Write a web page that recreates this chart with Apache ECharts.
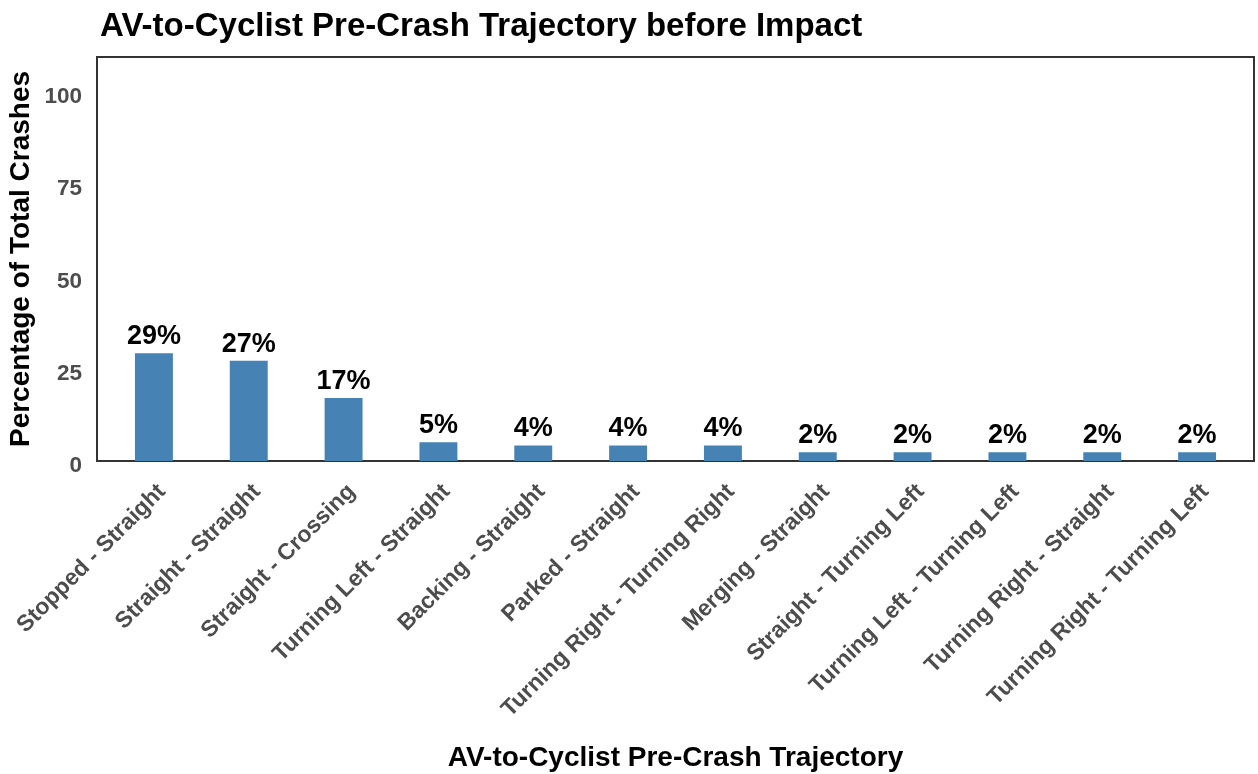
<!DOCTYPE html>
<html>
<head>
<meta charset="utf-8">
<script src="https://cdn.jsdelivr.net/npm/echarts@6/dist/echarts.min.js"></script>
<style>
  html, body { margin: 0; padding: 0; background: #fff; }
  #main { width: 1258px; height: 774px; }
</style>
</head>
<body>
<div id="main"></div>
<script>
// chart data
const trajectories = [
  'Stopped - Straight', 'Straight - Straight', 'Straight - Crossing',
  'Turning Left - Straight', 'Backing - Straight', 'Parked - Straight',
  'Turning Right - Turning Right', 'Merging - Straight', 'Straight - Turning Left',
  'Turning Left - Turning Left', 'Turning Right - Straight', 'Turning Right - Turning Left'
]
const percentages = [29.2, 27.2, 17.1, 5.1, 4.2, 4.2, 4.2, 2.4, 2.4, 2.4, 2.4, 2.4]
const yTicks = [0, 25, 50, 75, 100]

const font = 'Liberation Sans, Arial, sans-serif'
const chart = echarts.init(document.getElementById('main'))

chart.setOption({
  animation: false,
  title: {
    text: 'AV-to-Cyclist Pre-Crash Trajectory before Impact',
    left: 95,
    top: 5,
    textStyle: {fontFamily: font, fontWeight: 'bold', fontSize: 33, color: '#000'}
  },
  grid: [
    // data area, inset like ggplot's discrete expansion
    {left: 106.5, right: 13.5, top: 57, bottom: 313, outerBoundsMode: 'none'},
    // frame around the panel
    {left: 97, right: 4, top: 57, bottom: 313, outerBoundsMode: 'none', show: true, borderColor: '#333', borderWidth: 2, backgroundColor: 'transparent'}
  ],
  xAxis: [
    {
      type: 'category',
      gridIndex: 0,
      data: trajectories,
      axisLine: {show: false},
      axisTick: {show: false},
      axisLabel: {
        rotate: 45,
        interval: 0,
        margin: 19,
        verticalAlign: 'top',
        fontFamily: font,
        fontWeight: 'bold',
        fontSize: 23,
        color: '#4d4d4d'
      },
      name: 'AV-to-Cyclist Pre-Crash Trajectory',
      nameLocation: 'middle',
      nameGap: 283,
      nameMoveOverlap: false,
      nameTextStyle: {fontFamily: font, fontWeight: 'bold', fontSize: 28, color: '#000'}
    },
    {type: 'value', gridIndex: 1, show: false, min: 0, max: 1}
  ],
  yAxis: [
    {
      type: 'value',
      gridIndex: 0,
      min: 0,
      max: 109.5,
      interval: 25,
      axisLine: {show: false},
      axisTick: {show: false},
      splitLine: {show: false},
      axisLabel: {
        margin: 24.5,
        verticalAlign: 'top',
        lineHeight: 10,
        fontFamily: font,
        fontWeight: 'bold',
        fontSize: 22.5,
        color: '#4d4d4d',
        formatter: v => (yTicks.includes(v) ? String(v) : '')
      },
      name: 'Percentage of Total Crashes',
      nameLocation: 'middle',
      nameGap: 71,
      nameMoveOverlap: false,
      nameTextStyle: {fontFamily: font, fontWeight: 'bold', fontSize: 28, color: '#000'}
    },
    {type: 'value', gridIndex: 1, show: false, min: 0, max: 1}
  ],
  series: [{
    type: 'bar',
    xAxisIndex: 0,
    yAxisIndex: 0,
    data: percentages,
    barWidth: '40%',
    itemStyle: {color: '#4682B4'},
    label: {
      show: true,
      position: 'top',
      distance: 3,
      formatter: p => Math.round(p.value) + '%',
      fontFamily: font,
      fontWeight: 'bold',
      fontSize: 27,
      color: '#000'
    }
  }]
})
</script>
</body>
</html>
